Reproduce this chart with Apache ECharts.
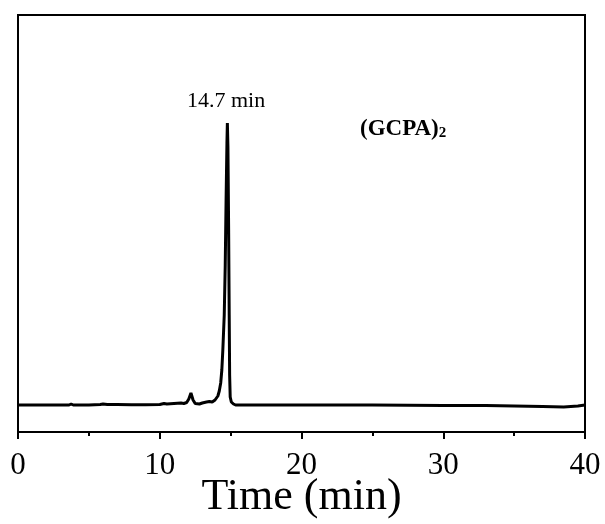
<!DOCTYPE html>
<html>
<head>
<meta charset="utf-8">
<script src="https://cdn.jsdelivr.net/npm/echarts@6/dist/echarts.min.js"></script>
<style>html,body{margin:0;padding:0;background:#fff}#c{width:605px;height:524px}</style>
</head>
<body>
<div id="c"></div>
<script>
const times = [0,1,2,3,3.6,3.75,3.9,5,5.8,6.0,6.3,7,8,9,10,10.3,10.5,11,11.5,11.7,11.9,12.05,12.2,12.35,12.5,12.8,13.0,13.3,13.5,13.7,13.9,14.0,14.1,14.2,14.3,14.38,14.45,14.55,14.62,14.68,14.74,14.77,14.81,14.86,14.9,14.93,14.97,15.05,15.2,15.35,16,20,25,30,33,35,37,38.5,39.5,40];
const signal = [0,0,0,0,0,1,0,0,0.5,1,0.5,0.5,0.3,0.3,0.5,1.5,1,1.5,2,1.5,2.5,6,12,5,1.5,1,2,3,3.5,3,5,6,9,14,22,35,55,90,140,205,262,282,258,175,90,30,8,3,1,0,0,0,0,-0.5,-0.5,-1,-1.5,-2,-1,0];
const xTicks = [0,10,20,30,40];
const peakLabel = '14.7 min';
const sampleName = '(GCPA)';
const sampleSub = '2';
const xName = 'Time (min)';

const chart = echarts.init(document.getElementById('c'), null, {renderer:'canvas'});
const serif = '"Liberation Serif","DejaVu Serif",serif';
chart.setOption({
  animation:false,
  backgroundColor:'#fff',
  grid:{left:18,right:20,top:15,bottom:92,show:true,borderColor:'#000',borderWidth:2,backgroundColor:'transparent',
    containLabel:false,outerBoundsMode:'none'},
  title:[
    {text:peakLabel,left:182,top:85,textStyle:{fontFamily:serif,fontSize:22,fontWeight:'normal',color:'#000'}},
    {text:'{a|'+sampleName+'}{b|'+sampleSub+'}',left:355,top:113,textStyle:{rich:{
      a:{fontFamily:serif,fontSize:23,fontWeight:'bold',color:'#000'},
      b:{fontFamily:serif,fontSize:15,fontWeight:'bold',color:'#000',verticalAlign:'bottom',padding:[8,0,0,0]}
    }}}
  ],
  xAxis:{type:'value',min:0,max:40,interval:10,
    axisLine:{show:true,onZero:false,lineStyle:{color:'#000',width:2}},
    axisTick:{show:true,inside:false,length:7,lineStyle:{color:'#000',width:2}},
    minorTick:{show:true,splitNumber:2,length:4,lineStyle:{color:'#000',width:2}},
    splitLine:{show:false},
    axisLabel:{fontFamily:serif,fontSize:31,color:'#000',margin:18,
      formatter:function(v){return xTicks.indexOf(v)>=0?String(v):'';}},
    name:xName,nameLocation:'middle',nameGap:43,nameMoveOverlap:false,
    nameTextStyle:{fontFamily:serif,fontSize:44,color:'#000'}
  },
  yAxis:{type:'value',min:-27,max:390,
    axisLine:{show:true,onZero:false,lineStyle:{color:'#000',width:2}},
    axisTick:{show:false},axisLabel:{show:false},splitLine:{show:false}},
  series:[{type:'line',data:times.map((t,i)=>[t,signal[i]]),showSymbol:false,symbol:'none',
    lineStyle:{color:'#000',width:3},smooth:false}]
});
</script>
</body>
</html>
